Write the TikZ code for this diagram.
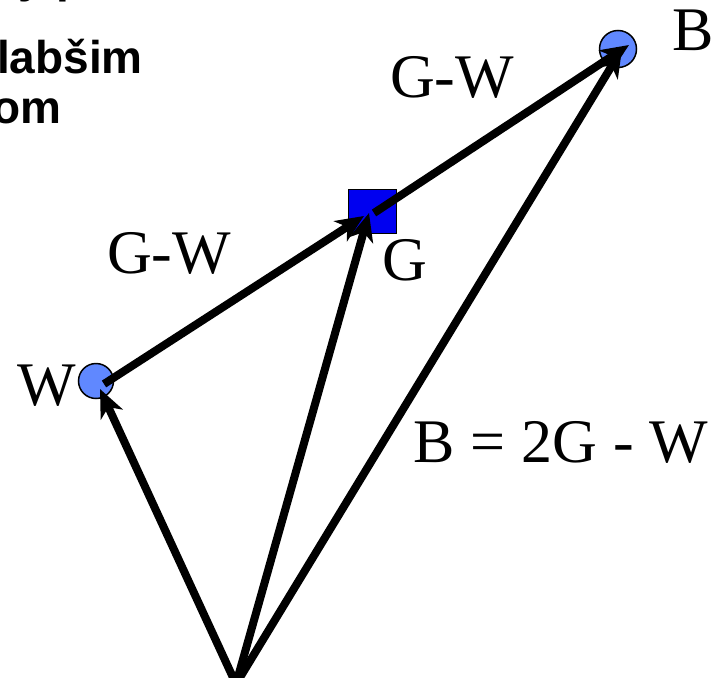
\documentclass[tikz,border=0pt]{standalone}
\usepackage{fontspec}
\setmainfont{Liberation Serif}
\newfontfamily\arialb{Liberation Sans}[BoldFont={* Bold}]
\usetikzlibrary{arrows.meta}
\definecolor{ptblue}{RGB}{96,136,255}
\definecolor{sqblue}{RGB}{0,0,240}
\tikzset{
  vec/.style={line width=8pt,-{Stealth[length=28pt,width=24pt,inset=8pt]}},
  lbl/.style={font=\fontsize{62}{62}\selectfont,inner sep=0pt},
  toptxt/.style={font=\arialb\bfseries\fontsize{46}{46}\selectfont,inner sep=0pt},
  pt/.style={circle,draw=black,line width=1.5pt,fill=ptblue,minimum size=35pt,inner sep=0pt}
}
\begin{document}
\begin{tikzpicture}[x=1pt,y=-1pt]
\useasboundingbox (0,0) rectangle (711,677);
\clip (0,0) rectangle (711,677);
% top-left text fragments
\node[toptxt,anchor=base west] (t0) at (18,-7) {y p};
\node[toptxt,anchor=base east] (t1) at (143,73) {labšim};
\node[toptxt,anchor=base east] (t2) at (62,123) {om};
% points
\node[pt] (W) at (96,381) {};
\node[pt,minimum size=37pt] (B) at (618,49) {};
\node[draw=black,line width=1pt,fill=sqblue,minimum width=48pt,minimum height=44pt,inner sep=0pt] (G) at (372.5,211.5) {};
% coordinates
\coordinate (O) at (236,684);
\coordinate (Wtip) at (100,389);
\coordinate (Wst) at (104,384);
\coordinate (Gtip1) at (364,216);
\coordinate (Gtip2) at (369,213);
\coordinate (Gst) at (374,213);
\coordinate (Btip1) at (629,45);
\coordinate (Btip2) at (622,49);
% vectors
\draw[vec] (O) -- (Wtip);
\draw[vec] (O) -- (Gtip2);
\draw[vec] (O) -- (Btip2);
\draw[vec] (Wst) -- (Gtip1);
\draw[vec] (Gst) -- (Btip1);
% labels
\node[lbl,anchor=base west] (lB) at (672,50) {B};
\node[lbl,anchor=base west] (lGW1) at (390,97) {G-W};
\node[lbl,anchor=base west] (lGW2) at (107,273) {G-W};
\node[lbl,anchor=base west] (lG) at (382,280) {G};
\node[lbl,anchor=base west] (lW) at (17,405) {W};
\node[lbl,anchor=base west] (lEq) at (413,462) {B\hspace{16pt}=\hspace{16pt}2G\hspace{16pt}-\hspace{16pt}W};
\end{tikzpicture}
\end{document}
